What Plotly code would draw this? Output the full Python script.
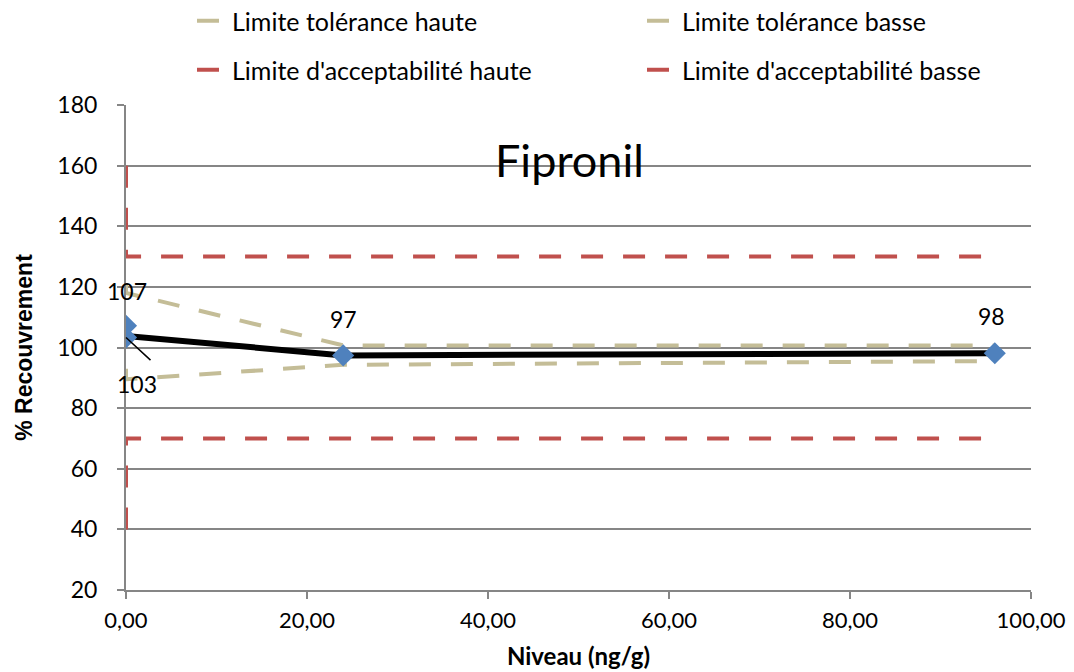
import plotly.graph_objects as go

# ---- data ----
niveau_pts = [0, 0, 24, 96]
recouv_pts = [107.2, 103.3, 97.4, 98.1]

niveau_moy = [0, 24, 96]
recouv_moy = [103.8, 97.4, 98.1]

tol_x = [0, 0, 24, 96]
tol_haute = [121, 118, 100.7, 100.7]
tol_basse = [93, 89.5, 94.3, 95.5]

acc_x = [0, 0, 96]
acc_haute = [160, 130, 130]
acc_basse = [40, 70, 70]

x_ticks = [0, 20, 40, 60, 80, 100]
y_ticks = [20, 40, 60, 80, 100, 120, 140, 160, 180]

FONT = "Lato"
TAN = "#C4BD97"
RED = "#C0504D"
BLUE = "#4F81BD"
GRID = "#868686"

fig = go.Figure()

fig.add_trace(go.Scatter(x=tol_x, y=tol_haute, mode="lines", name="Limite tolérance haute",
                         line=dict(color=TAN, width=4, dash="22px,20px"), legend="legend"))
fig.add_trace(go.Scatter(x=tol_x, y=tol_basse, mode="lines", name="Limite tolérance basse",
                         line=dict(color=TAN, width=4, dash="22px,20px"), legend="legend2"))
fig.add_trace(go.Scatter(x=acc_x, y=acc_haute, mode="lines", name="Limite d'acceptabilité haute",
                         line=dict(color=RED, width=4, dash="22px,20px"), legend="legend3"))
fig.add_trace(go.Scatter(x=acc_x, y=acc_basse, mode="lines", name="Limite d'acceptabilité basse",
                         line=dict(color=RED, width=4, dash="22px,20px"), legend="legend4"))
fig.add_trace(go.Scatter(x=niveau_moy, y=recouv_moy, mode="lines", showlegend=False,
                         line=dict(color="black", width=6)))
fig.add_trace(go.Scatter(x=niveau_pts, y=recouv_pts, mode="markers", showlegend=False,
                         marker=dict(symbol="diamond", size=17, color=BLUE)))

# data labels (text offsets in px relative to the point)
label_offsets = [(1, 35), (11, -46), (0, 36), (-3, 37)]
for xv, yv, (dx, dy) in zip(niveau_pts, recouv_pts, label_offsets):
    fig.add_annotation(x=xv, y=yv, text=f"{yv:.0f}", showarrow=False, xshift=dx, yshift=dy,
                       font=dict(family=FONT, size=23, color="black"))
# leader line for the "103" label
fig.add_annotation(x=niveau_pts[1], y=recouv_pts[1], text="", showarrow=True, arrowhead=0,
                   arrowwidth=1.5, arrowcolor="black", ax=26, ay=24)

fig.add_annotation(x=49, y=162, text="Fipronil", showarrow=False,
                   font=dict(family=FONT, size=45, color="black"))


def leg(xpx, ypx):
    return dict(orientation="h", xref="container", yref="container",
                x=xpx / 1074, y=1 - ypx / 672, xanchor="left", yanchor="middle",
                font=dict(family=FONT, size=25), bgcolor="rgba(0,0,0,0)")


fig.update_layout(
    width=1074, height=672,
    margin=dict(l=126, r=43, t=105, b=82, autoexpand=False),
    paper_bgcolor="white", plot_bgcolor="white",
    separators=",.",
    font=dict(family=FONT, size=22, color="black"),
    legend=leg(192, 21),
    legend2=leg(642, 21),
    legend3=leg(192, 70),
    legend4=leg(642, 70),
    xaxis=dict(range=[0, 100], tickvals=x_ticks, tickformat=".2f",
               showgrid=False, zeroline=False, showline=True, linecolor=GRID, linewidth=2,
               ticks="outside", ticklen=7, tickcolor=GRID, tickwidth=2,
               ticklabelstandoff=3,
               tickfont=dict(family=FONT, size=22),
               title=dict(text="<b>Niveau (ng/g)</b>", font=dict(family=FONT, size=24), standoff=16)),
    yaxis=dict(range=[20, 180], tickvals=y_ticks,
               showgrid=True, gridcolor=GRID, gridwidth=2, zeroline=False,
               showline=True, linecolor=GRID, linewidth=2,
               ticks="outside", ticklen=7, tickcolor=GRID, tickwidth=2,
               ticklabelstandoff=15,
               tickfont=dict(family=FONT, size=23),
               title=dict(text="<b>% Recouvrement</b>",
                          font=dict(family="Liberation Sans", size=23), standoff=18)),
)

fig.write_html("out.html")
